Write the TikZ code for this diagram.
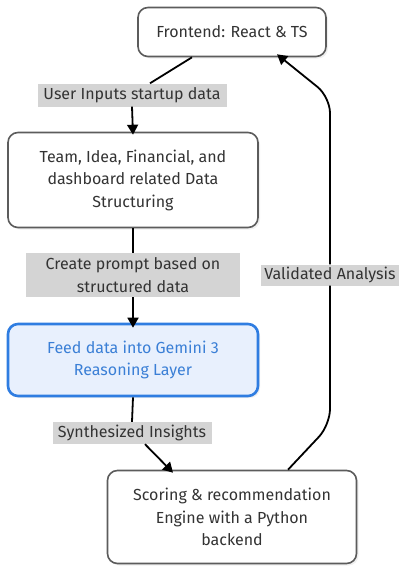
\documentclass[tikz,border=0pt]{standalone}
\usepackage{fontspec}
\setmainfont{Fira Sans}
\usepackage{xcolor}
\usetikzlibrary{arrows.meta,positioning,shadows}
\definecolor{boxline}{RGB}{92,92,92}
\definecolor{txtdark}{RGB}{51,51,51}
\definecolor{lblgray}{RGB}{212,212,212}
\definecolor{gemblue}{RGB}{47,125,225}
\definecolor{gemfill}{RGB}{232,240,253}
\definecolor{gemtext}{RGB}{58,127,214}

\begin{document}
\begin{tikzpicture}[x=1pt,y=-1pt,
    font=\fontsize{16}{22.5}\selectfont,
    stepbox/.style={draw=boxline,line width=1.6pt,rounded corners=10pt,
      fill=white,text=txtdark,align=center,
      drop shadow={opacity=0.12,shadow xshift=2pt,shadow yshift=-2pt}},
    hlbox/.style={stepbox,draw=gemblue,line width=2.6pt,fill=gemfill,text=gemtext},
    edgelbl/.style={fill=lblgray,text=txtdark,align=center,inner sep=1.5pt},
    flow/.style={draw=black,line width=1.8pt},
    flowarr/.style={flow,-{Triangle[length=10pt,width=11pt]}}]
  \useasboundingbox (0,0) rectangle (409,573);
  % --- boxes ---
  \node[stepbox,minimum width=188pt,minimum height=49pt] (fe) at (232,32)
        {Frontend: React \& TS};
  \node[stepbox,minimum width=250pt,minimum height=95pt] (team) at (133,180)
        {Team, Idea, Financial, and\\dashboard related Data\\Structuring};
  \node[hlbox,minimum width=250pt,minimum height=72pt] (gem) at (133,360)
        {Feed data into Gemini 3\\Reasoning Layer};
  \node[stepbox,minimum width=249pt,minimum height=93pt] (score) at (232,517)
        {Scoring \& recommendation\\Engine with a Python\\backend};
  % --- edge labels ---
  \node[edgelbl,minimum width=189pt,minimum height=23pt] (uin) at (132,95)
        {User Inputs startup data};
  \node[edgelbl,minimum width=214pt,minimum height=44pt] (cp) at (133,275)
        {Create prompt based on\\structured data};
  \node[edgelbl,minimum width=159pt,minimum height=22pt] (si) at (132,433)
        {Synthesized Insights};
  \node[edgelbl,minimum width=138pt,minimum height=21pt] (va) at (330,275)
        {Validated Analysis};
  % --- connectors ---
  \draw[flow] ([xshift=-40pt]fe.south) -- ([xshift=18pt]uin.north);
  \draw[flowarr] (uin.south) -- ([yshift=-3pt]team.north);
  \draw[flow] (team.south) -- (cp.north);
  \draw[flowarr] (cp.south) -- ([yshift=-5pt]gem.north);
  \draw[flow] (gem.south) -- (si.north);
  \draw[flowarr] ([xshift=13pt]si.south) -- ([xshift=-59pt,yshift=-3pt]score.north);
  % return path to the frontend
  \coordinate (rb) at (330,425);
  \coordinate (rt) at (330,97);
  \draw[flow,rounded corners=16pt] ([xshift=56pt]score.north) -- (rb) -- (va.south);
  \draw[flowarr,rounded corners=16pt] (va.north) -- (rt) -- ([xshift=45pt,yshift=3pt]fe.south);
\end{tikzpicture}
\end{document}
